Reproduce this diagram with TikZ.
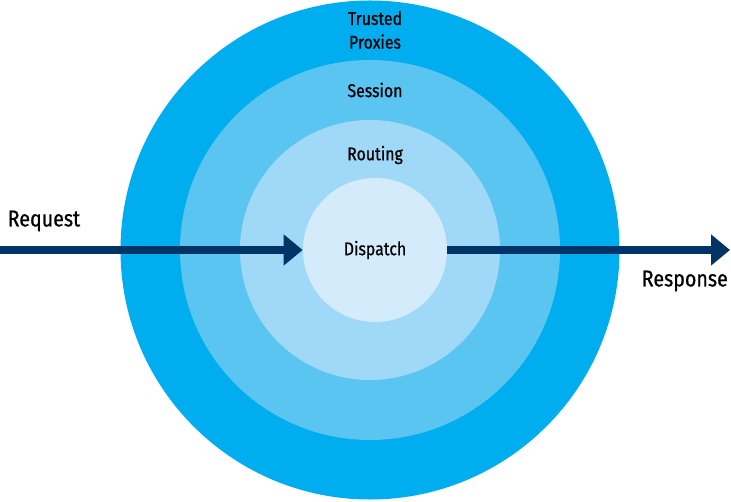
\documentclass[tikz,border=0pt]{standalone}
\usepackage{fontspec}
\setmainfont{Fira Sans}[FakeStretch=0.86, FakeBold=0.7]
\usetikzlibrary{arrows.meta,positioning}

\definecolor{proxyblue}{RGB}{0,173,239}
\definecolor{sessionblue}{RGB}{91,197,242}
\definecolor{routingblue}{RGB}{160,216,247}
\definecolor{dispatchblue}{RGB}{211,235,251}
\definecolor{flowblue}{RGB}{0,51,102}

\tikzset{
	ring/.style={circle, inner sep=0pt, minimum size=#1},
	layer/.style={font=\fontsize{10.5}{13.5}\selectfont, align=center, text=black},
	flow/.style={draw=flowblue, line width=5.1pt, -{Triangle[length=0.38cm, width=0.6cm]}},
	ends/.style={font=\fontsize{13}{15}\selectfont, text=black}
}

\begin{document}
\begin{tikzpicture}
		\useasboundingbox (0,0) rectangle (14.62,10.02);
		\coordinate (c) at (7.40,5.02);

		% layers, outside in
		\node[ring=9.98cm, fill=proxyblue] (proxies) at (c) {};
		\node[ring=7.6cm, fill=sessionblue] (session) at (c) {};
		\node[ring=5.2cm, fill=routingblue] (routing) at (c) {};
		\node[ring=2.88cm, fill=dispatchblue, layer] (dispatch) at (7.50,5.02) {Dispatch};

		\node[layer] (proxieslabel) at (7.50,9.42) {Trusted\\Proxies};
		\node[layer] (sessionlabel) at (7.50,8.22) {Session};
		\node[layer] (routinglabel) at (7.50,6.92) {Routing};

		% request in, response out
		\coordinate (req) at (0,5.02);
		\coordinate (resp) at (14.60,5.02);
		\draw[flow] (req) -- (dispatch.west);
		\draw[flow] (dispatch.east) -- (resp);

		\node[ends, anchor=west] (request) at (0.03,5.60) {Request};
		\node[ends, anchor=east] (response) at (14.68,4.40) {Response};
	\end{tikzpicture}
\end{document}
